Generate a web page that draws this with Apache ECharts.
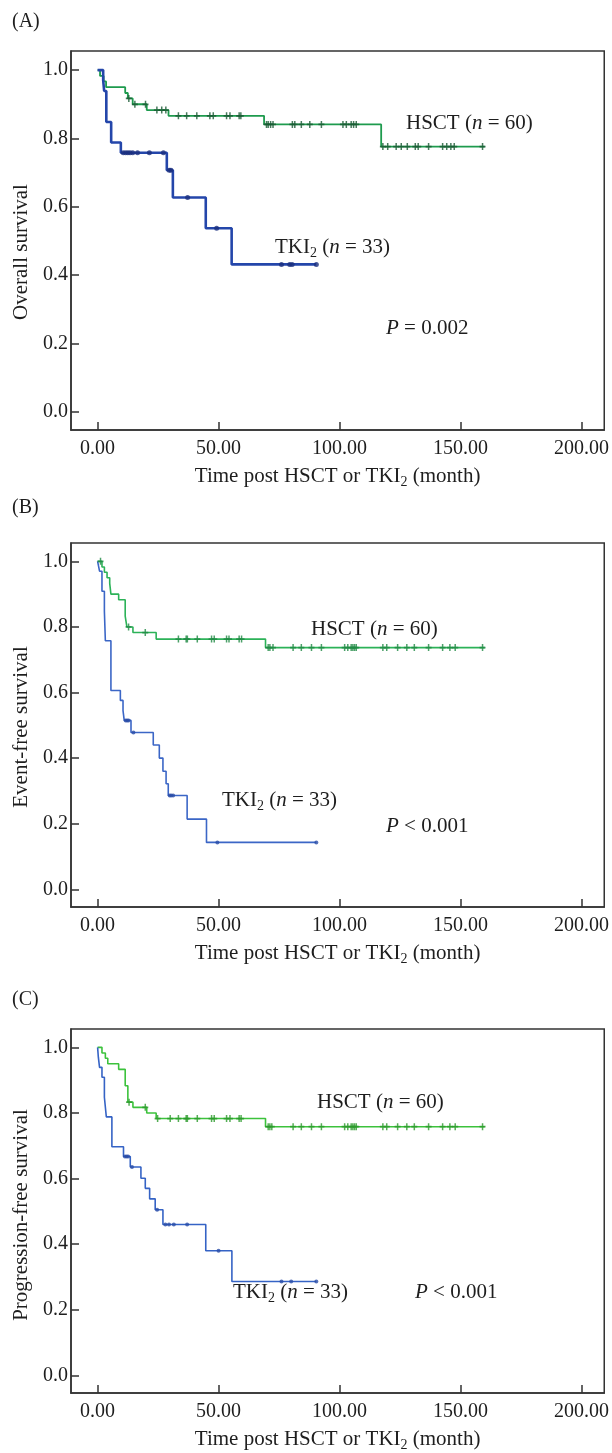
<!DOCTYPE html>
<html><head><meta charset="utf-8">
<script src="https://cdn.jsdelivr.net/npm/echarts@6/dist/echarts.min.js"></script>
<style>html,body{margin:0;padding:0;background:#fff}#c{width:612px;height:1453px}</style>
</head><body><div id="c"></div>
<script>
// ---- tick labels ----
const xTicks = [0, 50, 100, 150, 200];
const yTicks = [0, 0.2, 0.4, 0.6, 0.8, 1.0];
const panelLetters = ['(A)', '(B)', '(C)'];
const yTitles = ['Overall survival', 'Event-free survival', 'Progression-free survival'];
const xTitle = 'Time post HSCT or TKI{s|2} (month)';
const hsctLabel = 'HSCT ({i|n} = 60)';
const tkiLabel = 'TKI{s|2} ({i|n} = 33)';
const pLabels = ['{i|P} = 0.002', '{i|P} < 0.001', '{i|P} < 0.001'];

// ---- Panel A: overall survival ----
const aHsctT = [0, 1.0, 2.5, 3.5, 11.4, 12.5, 14.5, 20.3, 29.3, 68.8, 117.2, 160];
const aHsctS = [1, 0.983, 0.967, 0.950, 0.933, 0.917, 0.900, 0.883, 0.866, 0.841, 0.776, 0.776];
const aHsctCens = [12.9, 15.4, 19.8, 24.5, 26.5, 28.2, 33.4, 36.8, 41.0, 46.4, 47.8, 53.3, 54.7, 58.5, 59.2, 69.8, 70.5, 71.5, 72.5, 80.5, 81.5, 84.2, 87.7, 92.5, 101.4, 102.8, 104.8, 105.8, 106.9, 117.9, 119.9, 123.4, 125.5, 128.0, 131.3, 132.5, 136.8, 142.6, 144.3, 146.0, 147.4, 159.1];
const aTkiT = [0, 2.3, 2.7, 3.6, 5.6, 9.6, 28.6, 31.1, 44.7, 55.4, 90.4];
const aTkiS = [1, 0.970, 0.939, 0.848, 0.788, 0.758, 0.707, 0.627, 0.537, 0.431, 0.431];
const aTkiCens = [10.6, 11.6, 12.5, 13.4, 14.5, 16.5, 21.4, 27.2, 29.6, 30.3, 37.2, 49.2, 76.0, 79.4, 80.4, 90.4];

// ---- Panel B: event-free survival ----
const bHsctT = [0, 1.8, 2.8, 3.9, 5.0, 5.5, 8.7, 11.4, 12.1, 14.6, 24.2, 69.4, 160];
const bHsctS = [1, 0.983, 0.967, 0.950, 0.933, 0.900, 0.883, 0.833, 0.800, 0.783, 0.763, 0.737, 0.737];
const bHsctCens = [1.2, 12.8, 19.7, 33.4, 36.6, 37.1, 41.2, 47.1, 48.2, 53.3, 54.3, 58.5, 59.5, 70.5, 71.2, 72.5, 80.8, 84.2, 88.4, 92.5, 102.1, 103.4, 104.8, 105.5, 106.2, 106.9, 117.9, 119.5, 124.0, 127.8, 130.9, 136.8, 142.6, 145.6, 147.8, 159.1];
const bTkiT = [0, 0.8, 1.8, 2.8, 3.2, 5.5, 9.4, 10.5, 11.0, 13.8, 23.0, 25.5, 27.0, 28.3, 29.2, 37.0, 45.0, 90.4];
const bTkiS = [1, 0.970, 0.909, 0.848, 0.758, 0.606, 0.576, 0.545, 0.515, 0.478, 0.440, 0.400, 0.360, 0.322, 0.286, 0.214, 0.143, 0.143];
const bTkiCens = [11.6, 12.2, 12.8, 14.8, 29.8, 30.4, 31.2, 49.5, 90.4];

// ---- Panel C: progression-free survival ----
const cHsctT = [0, 1.8, 3.2, 4.2, 8.7, 11.4, 12.5, 14.6, 20.3, 24.2, 69.4, 160];
const cHsctS = [1, 0.983, 0.967, 0.950, 0.933, 0.883, 0.833, 0.817, 0.800, 0.783, 0.758, 0.758];
const cHsctCens = [13.0, 19.7, 24.8, 30.0, 33.4, 36.6, 37.1, 41.2, 47.1, 48.2, 53.3, 54.7, 58.5, 59.3, 70.5, 71.2, 72.0, 80.8, 84.2, 88.4, 92.5, 102.1, 103.4, 104.8, 105.5, 106.2, 106.9, 117.9, 119.5, 124.0, 127.8, 130.9, 136.8, 142.6, 145.6, 147.8, 159.1];
const cTkiT = [0, 0.3, 0.8, 1.8, 2.8, 3.6, 5.9, 10.7, 13.5, 17.9, 19.7, 21.5, 23.8, 27.0, 44.7, 55.5, 90.4];
const cTkiS = [1, 0.970, 0.939, 0.909, 0.848, 0.788, 0.697, 0.667, 0.635, 0.601, 0.570, 0.538, 0.505, 0.460, 0.380, 0.286, 0.286];
const cTkiCens = [11.3, 12.0, 12.6, 14.2, 24.6, 28.0, 29.5, 31.5, 37.0, 50.0, 76.0, 80.0, 90.4];

const F = '"Liberation Serif","Times New Roman",serif';
const INK = '#1e1e1e';
const panels = [
  {hT: aHsctT, hS: aHsctS, hC: aHsctCens, tT: aTkiT, tS: aTkiS, tC: aTkiCens,
   hCol: '#1e9b4e', hMark: '#195a33', hW: 1.8, tCol: '#2446aa', tMark: '#1c2f7e', tW: 2.6, tSym: 'circle', tSize: 5},
  {hT: bHsctT, hS: bHsctS, hC: bHsctCens, tT: bTkiT, tS: bTkiS, tC: bTkiCens,
   hCol: '#2cb258', hMark: '#1f8a43', hW: 1.6, tCol: '#3b66c6', tMark: '#2a4ea8', tW: 1.6, tSym: 'circle', tSize: 4},
  {hT: cHsctT, hS: cHsctS, hC: cHsctCens, tT: cTkiT, tS: cTkiS, tC: cTkiCens,
   hCol: '#3cc23c', hMark: '#2a9a2a', hW: 1.6, tCol: '#3563c5', tMark: '#2a4ea8', tW: 1.6, tSym: 'circle', tSize: 4}
];
const grids = [
  {left: 71, width: 534, top: 51, height: 379},
  {left: 71, width: 534, top: 543, height: 364},
  {left: 71, width: 534, top: 1029, height: 366}
];
const plus = 'path://M3,0H5V3H8V5H5V8H3V5H0V3H3Z';

function survAt(T, S, t) {
  let v = S[0];
  for (let k = 0; k < T.length; k++) { if (T[k] <= t) v = S[k]; }
  return v;
}
const zip = (T, S) => T.map((t, k) => [t, S[k]]);

const RICH = {
  i: {fontStyle: 'italic', fontSize: 21, fontFamily: F, fill: INK, color: INK, lineHeight: 26},
  s: {fontSize: 14, fontFamily: F, fill: INK, color: INK, verticalAlign: 'bottom', lineHeight: 16}
};

const xAxes = [], yAxes = [], series = [];
panels.forEach((p, g) => {
  xAxes.push({
    type: 'value', gridIndex: g, min: -11, max: 209.4,
    axisLine: {show: true, onZero: false, lineStyle: {color: '#333', width: 1.5}},
    axisTick: {show: true, inside: true, length: 8, customValues: xTicks, lineStyle: {color: '#333', width: 1.5}},
    axisLabel: {customValues: xTicks, formatter: v => v.toFixed(2), fontSize: 20, fontFamily: F, color: INK, margin: 9},
    splitLine: {show: false},
    name: xTitle, nameLocation: 'middle', nameGap: 33,
    nameTextStyle: {fontSize: 21, fontFamily: F, color: INK, lineHeight: 26, rich: {s: {fontSize: 14, fontFamily: F, color: INK, verticalAlign: 'bottom', lineHeight: 16}}}
  });
  yAxes.push({
    type: 'value', gridIndex: g, min: -0.054, max: 1.056,
    axisLine: {show: true, onZero: false, lineStyle: {color: '#333', width: 1.5}},
    axisTick: {show: true, inside: true, length: 8, customValues: yTicks, lineStyle: {color: '#333', width: 1.5}},
    axisLabel: {customValues: yTicks, formatter: v => v.toFixed(1), fontSize: 20, fontFamily: F, color: INK, margin: 3},
    splitLine: {show: false}
  });
  series.push({type: 'line', step: 'end', xAxisIndex: g, yAxisIndex: g, data: zip(p.hT, p.hS),
    showSymbol: false, lineStyle: {color: p.hCol, width: p.hW}, z: 3, silent: true});
  series.push({type: 'line', step: 'end', xAxisIndex: g, yAxisIndex: g, data: zip(p.tT, p.tS),
    showSymbol: false, lineStyle: {color: p.tCol, width: p.tW}, z: 3, silent: true});
  series.push({type: 'scatter', xAxisIndex: g, yAxisIndex: g, data: p.hC.map(t => [t, survAt(p.hT, p.hS, t)]),
    symbol: plus, symbolSize: [6, 7], itemStyle: {color: p.hMark}, z: 4, silent: true});
  series.push({type: 'scatter', xAxisIndex: g, yAxisIndex: g, data: p.tC.map(t => [t, survAt(p.tT, p.tS, t)]),
    symbol: p.tSym, symbolSize: p.tSize, itemStyle: {color: p.tMark}, z: 4, silent: true});
});

function txt(x, y, text, opt) {
  opt = opt || {};
  return {type: 'text', x: x, y: y, rotation: opt.rot || 0, z: 10,
    style: {text: text, fontSize: opt.fs || 21, fontFamily: F, fill: INK, align: opt.align || 'left',
      verticalAlign: 'middle', lineHeight: 26, rich: RICH}};
}
const graphics = [
  txt(12, 22, panelLetters[0], {fs: 20}),
  txt(12, 508, panelLetters[1], {fs: 20}),
  txt(12, 1000, panelLetters[2], {fs: 20}),
  txt(21, 252, yTitles[0], {rot: Math.PI / 2, align: 'center'}),
  txt(21, 727, yTitles[1], {rot: Math.PI / 2, align: 'center'}),
  txt(21, 1215, yTitles[2], {rot: Math.PI / 2, align: 'center'}),
  txt(406, 123, hsctLabel), txt(275, 247, tkiLabel), txt(386, 328, pLabels[0]),
  txt(311, 629, hsctLabel), txt(222, 800, tkiLabel), txt(386, 826, pLabels[1]),
  txt(317, 1102, hsctLabel), txt(233, 1292, tkiLabel), txt(415, 1292, pLabels[2])
];

const chart = echarts.init(document.getElementById('c'), null, {renderer: 'canvas'});
chart.setOption({
  animation: false,
  backgroundColor: '#fff',
  grid: grids.map(g => Object.assign({show: true, borderColor: '#333', borderWidth: 1.5, containLabel: false}, g)),
  xAxis: xAxes, yAxis: yAxes, series: series, graphic: graphics
});
</script></body></html>
